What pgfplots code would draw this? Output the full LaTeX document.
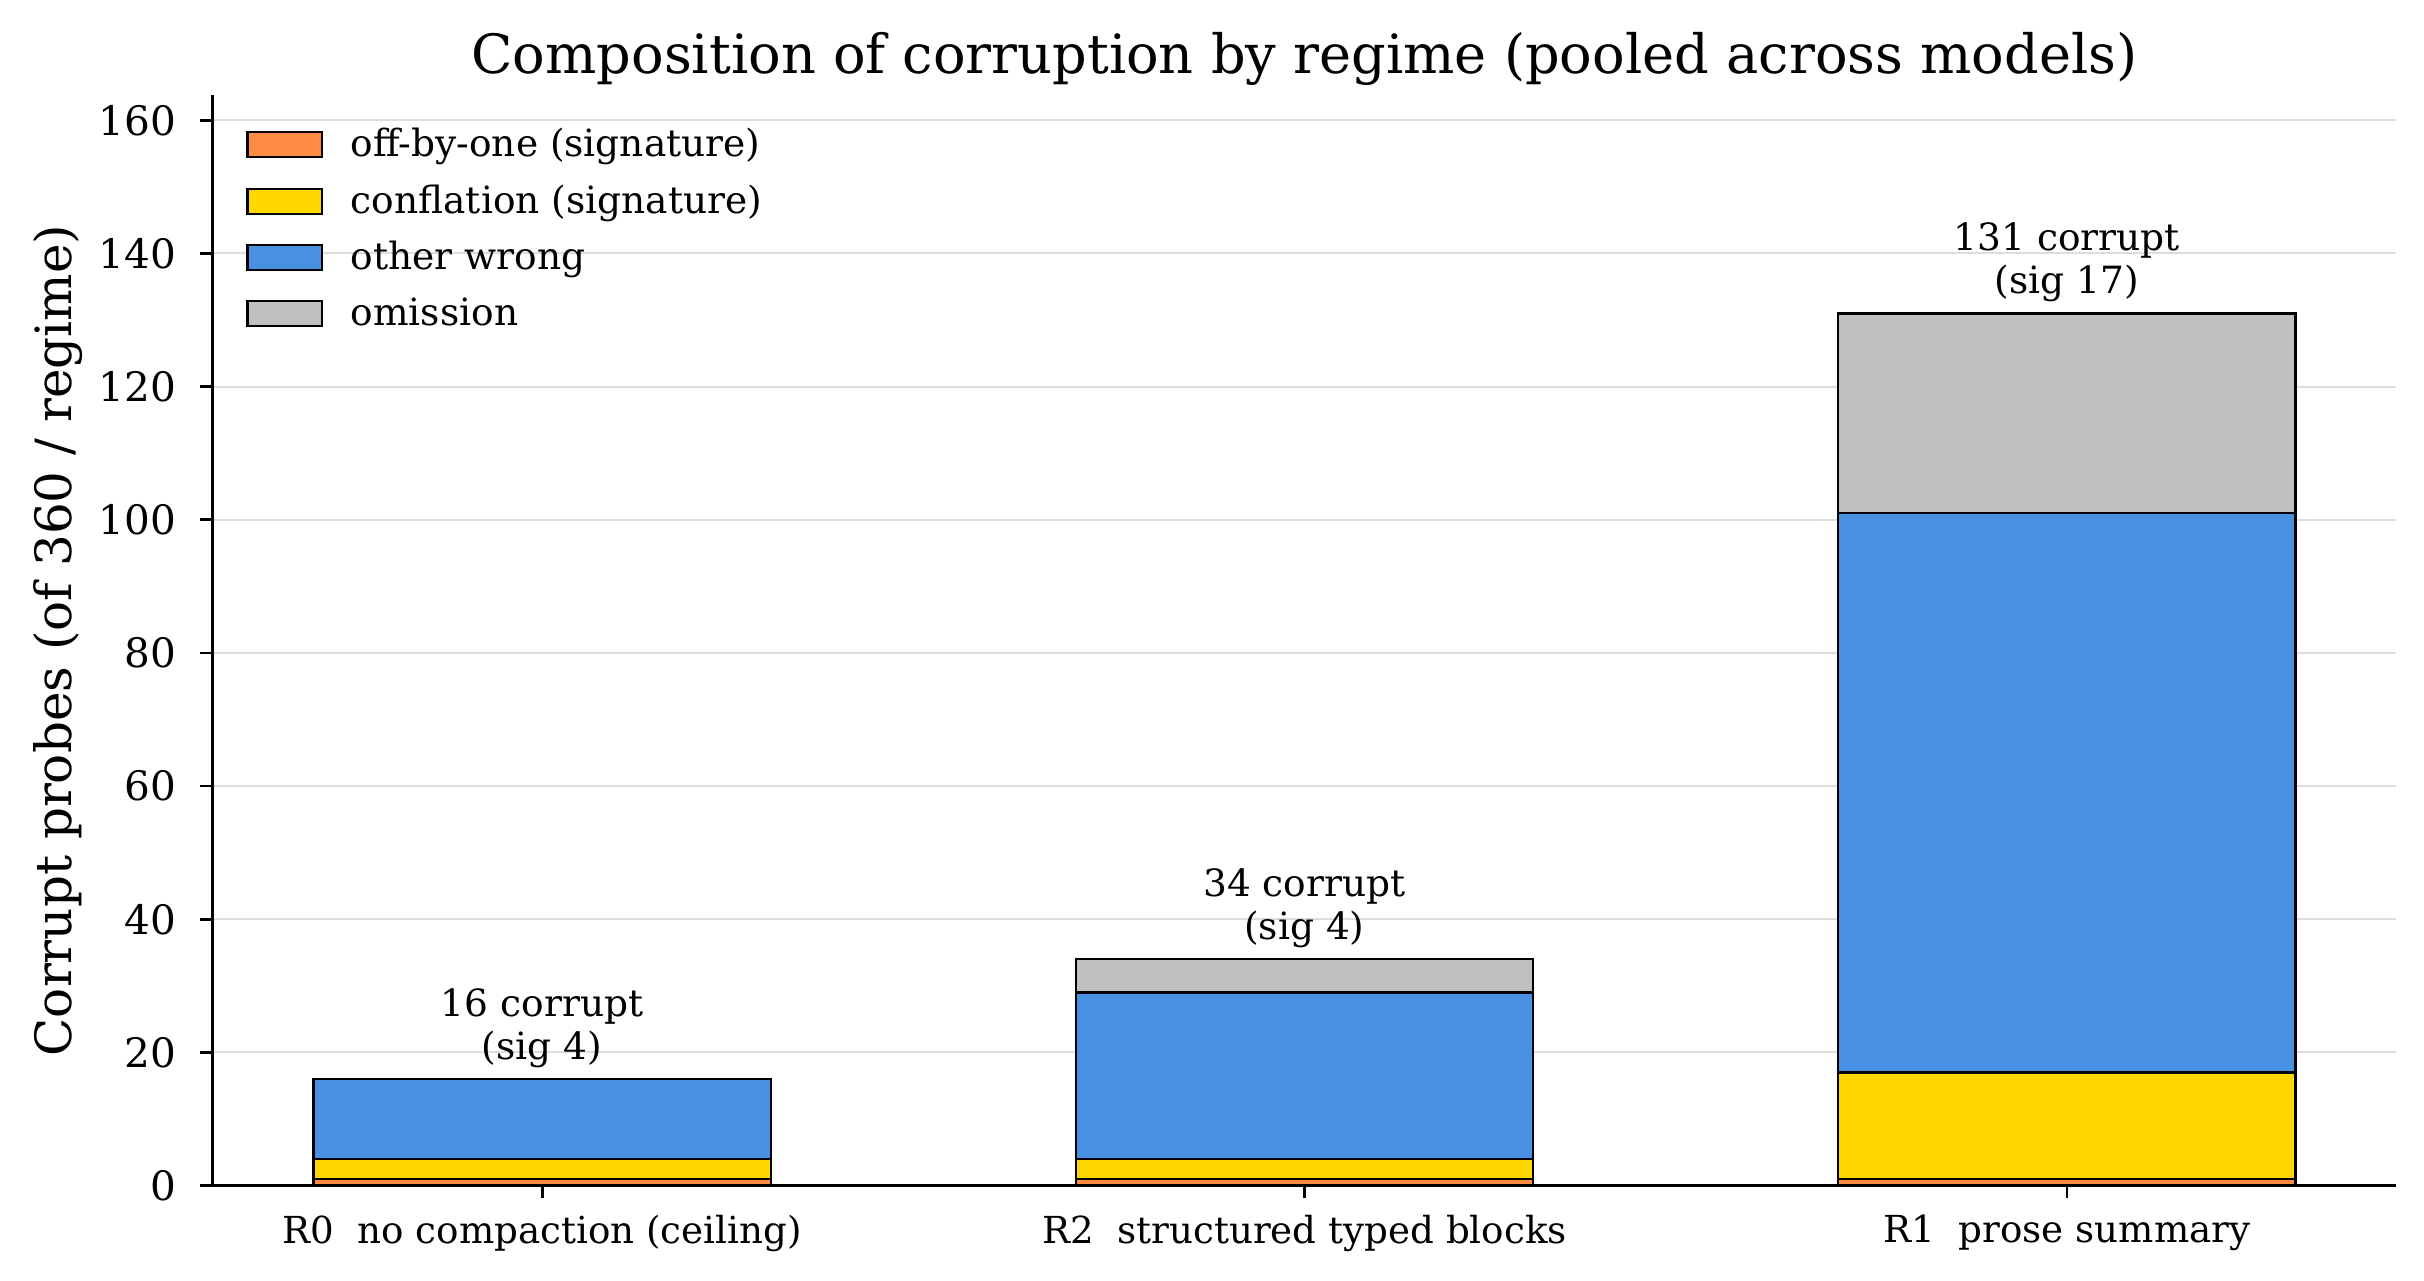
\documentclass[border=0pt]{standalone}
\usepackage{pgfplots}
\pgfplotsset{compat=1.18}
\usepackage{fontspec}
\setmainfont{DejaVu Serif}

\definecolor{cOff}{HTML}{FF8C42}
\definecolor{cConf}{HTML}{FFD700}
\definecolor{cOther}{HTML}{4A90E2}
\definecolor{cOmit}{HTML}{C0C0C0}
\definecolor{cGrid}{HTML}{DDDDDD}

\begin{document}
\begin{tikzpicture}
\begin{axis}[
  at={(0,0)}, anchor=south west,
  scale only axis,
  width=786pt, height=392.5pt,
  ybar stacked,
  bar width=0.6,
  xmin=-0.432, xmax=2.432,
  ymin=0, ymax=163.75,
  xtick={0,1,2},
  xticklabels={R0\ \ no compaction (ceiling), R2\ \ structured typed blocks, R1\ \ prose summary},
  ytick={0,20,...,160},
  /pgf/number format/assume math mode=true,
  axis x line*=bottom, axis y line*=left,
  axis line style={line width=1.1pt},
  tick align=outside,
  major tick length=4.6pt,
  tick style={black, line width=1pt},
  ymajorgrids, grid style={cGrid, line width=0.7pt},
  yticklabel style={font=\fontsize{14.6}{17}\selectfont, xshift=-5pt},
  xticklabel style={font=\fontsize{13.4}{16}\selectfont, yshift=-2.5pt},
  ylabel={Corrupt probes (of 360 / regime)},
  ylabel style={font=\fontsize{18}{21}\selectfont, yshift=-1pt},
  title={Composition of corruption by regime (pooled across models)},
  title style={font=\fontsize{19.5}{23}\selectfont, yshift=-6pt},
  legend style={draw=none, fill=none, at={(11.9pt,382.8pt)}, anchor=north west,
    font=\fontsize{13.5}{16}\selectfont, row sep=4.6pt, inner sep=0pt},
  legend cell align=left,
  legend image code/.code={\draw[#1, draw=black, line width=0.8pt] (0pt,-4.5pt) rectangle (26.8pt,4.5pt);},
  every axis plot/.append style={draw=black, line width=0.9pt},
]
\addplot[fill=cOff] coordinates {(0,1) (1,1) (2,1)};
\addplot[fill=cConf] coordinates {(0,3) (1,3) (2,16)};
\addplot[fill=cOther] coordinates {(0,12) (1,25) (2,84)};
\addplot[fill=cOmit] coordinates {(0,0) (1,5) (2,30)};
\legend{\hspace{8pt}off-by-one (signature), \hspace{8pt}conflation (signature), \hspace{8pt}other wrong, \hspace{8pt}omission}
\node[above, align=center, font=\fontsize{13.5}{15.3}\selectfont, inner sep=4pt] at (axis cs:0,16) {16 corrupt\\(sig 4)};
\node[above, align=center, font=\fontsize{13.5}{15.3}\selectfont, inner sep=4pt] at (axis cs:1,34) {34 corrupt\\(sig 4)};
\node[above, align=center, font=\fontsize{13.5}{15.3}\selectfont, inner sep=4pt] at (axis cs:2,131) {131 corrupt\\(sig 17)};
\end{axis}
\useasboundingbox (-76.6pt,-34pt) rectangle (796pt,426.8pt);
\end{tikzpicture}
\end{document}
